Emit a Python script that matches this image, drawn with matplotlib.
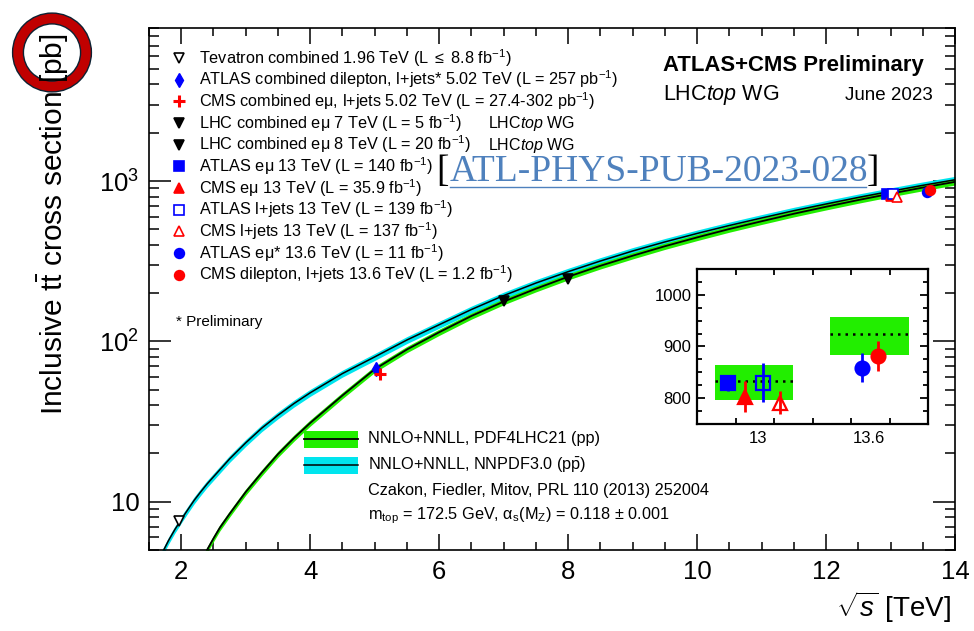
import matplotlib
matplotlib.use("Agg")
import matplotlib.pyplot as plt
from matplotlib.lines import Line2D
from matplotlib.patches import Rectangle, Circle
from matplotlib.ticker import FixedLocator, MultipleLocator, NullFormatter

plt.rcParams['font.family'] = ['Liberation Sans', 'DejaVu Sans']
plt.rcParams['mathtext.fontset'] = 'custom'
plt.rcParams['mathtext.rm'] = 'Liberation Sans'
plt.rcParams['mathtext.it'] = 'Liberation Sans:italic'
plt.rcParams['mathtext.bf'] = 'Liberation Sans:bold'
plt.rcParams['mathtext.sf'] = 'Liberation Sans'
plt.rcParams['mathtext.default'] = 'regular'

W, H = 974, 631

# theory curves
sqrts_pp = [2.3, 2.4, 2.5, 2.6, 2.75, 3.0, 3.25, 3.5, 3.75, 4.0, 4.5, 5.0, 5.5, 6.0, 6.5, 7.0, 7.5, 8.0,
            8.5, 9.0, 9.5, 10.0, 10.5, 11.0, 11.5, 12.0, 12.5, 13.0, 13.5, 14.0]
xsec_pp = [4.2, 5.0, 5.9, 6.9, 8.4, 11.5, 15.2, 19.8, 25.0, 31.0, 46.0, 67.0, 89.0, 114.0, 144.0, 177.0, 213.0, 253.0,
           296.0, 342.0, 392.0, 445.0, 502.0, 561.0, 625.0, 691.0, 761.0, 834.0, 910.0, 988.0]
sqrts_ppbar = [1.6, 1.7, 1.8, 1.9, 1.96, 2.0, 2.1, 2.2, 2.3, 2.4, 2.5, 2.75, 3.0, 3.25, 3.5, 3.75, 4.0, 4.5,
               5.0, 5.5, 6.0, 6.5, 7.0, 7.5, 8.0, 8.5, 9.0, 9.5, 10.0, 10.5, 11.0, 11.5, 12.0, 12.5, 13.0,
               13.5, 14.0]
xsec_ppbar = [3.9, 4.75, 5.7, 6.7, 7.3, 7.75, 8.9, 10.2, 11.5, 12.9, 14.3, 18.5, 23.3, 28.8, 34.6, 41.0, 47.8, 63.0,
              80.0, 102.0, 127.0, 158.0, 193.0, 231.0, 272.0, 317.0, 366.0, 417.0, 471.0, 528.0, 588.0, 653.0,
              719.0, 790.0, 863.0, 940.0, 1018.0]
rel_unc_pp = 0.045
rel_unc_ppbar = 0.05

# measurements
labels = [
    r"Tevatron combined 1.96 TeV (L $\leq$ 8.8 fb$^{-1}$)",
    r"ATLAS combined dilepton, l+jets* 5.02 TeV (L = 257 pb$^{-1}$)",
    r"CMS combined eμ, l+jets 5.02 TeV (L = 27.4-302 pb$^{-1}$)",
    r"LHC combined eμ 7 TeV (L = 5 fb$^{-1}$)",
    r"LHC combined eμ 8 TeV (L = 20 fb$^{-1}$)",
    r"ATLAS eμ 13 TeV (L = 140 fb$^{-1}$)",
    r"CMS eμ 13 TeV (L = 35.9 fb$^{-1}$)",
    r"ATLAS l+jets 13 TeV (L = 139 fb$^{-1}$)",
    r"CMS l+jets 13 TeV (L = 137 fb$^{-1}$)",
    r"ATLAS eμ* 13.6 TeV (L = 11 fb$^{-1}$)",
    r"CMS dilepton, l+jets 13.6 TeV (L = 1.2 fb$^{-1}$)",
]
meas_x = [1.96, 5.02, 5.08, 7.0, 8.0, 12.94, 13.0, 13.04, 13.1, 13.57, 13.62]
meas_y = [7.6, 67.5, 63.0, 178.5, 243.3, 829.0, 803.0, 830.0, 791.0, 859.0, 882.0]
meas_err = [0.5, 2.5, 5.0, 6.0, 8.0, 15.0, 30.0, 38.0, 22.0, 28.0, 29.0]
markers = ['v', 'd', '+', 'v', 'v', 's', '^', 's', '^', 'o', 'o']
colors = ['black', 'blue', 'red', 'black', 'black', 'blue', 'red', 'blue', 'red', 'blue', 'red']
filled = [False, True, True, True, True, True, True, False, False, True, True]

# inset (13 and 13.6 TeV zoom)
inset_pos = [0.134, 0.208, 0.286, 0.359, 0.714, 0.784]
inset_idx = [5, 6, 7, 8, 9, 10]
theory_box_x = [(0.078, 0.416), (0.576, 0.918)]
theory_box_c = [834.0, 924.0]
theory_box_lo = [796.0, 883.0]
theory_box_hi = [864.0, 957.0]
inset_labels = ['13', '13.6']
inset_label_pos = [0.264, 0.745]


def px(x, y):
    return x / W, 1 - y / H


def mstyle(i, big=False):
    m = markers[i]
    if m == '+':
        return dict(ms=9 if big else 8, mew=2.2)
    if m == 'd':
        return dict(ms=7.5, mew=1.0)
    return dict(ms=(10 if big else 7), mew=1.6 if big else 1.2)


fig = plt.figure(figsize=(W / 100, H / 100), dpi=100)
x0, y0 = px(149, 550)
x1, y1 = px(955, 28)
ax = fig.add_axes([x0, y0, x1 - x0, y1 - y0])

# theory bands
ax.fill_between(sqrts_ppbar, [v * (1 - rel_unc_ppbar) for v in xsec_ppbar],
                [v * (1 + rel_unc_ppbar) for v in xsec_ppbar], color='#00e5ee', lw=0, zorder=2)
ax.plot(sqrts_ppbar, xsec_ppbar, color='black', lw=1.1, zorder=3)
ax.fill_between(sqrts_pp, [v * (1 - rel_unc_pp) for v in xsec_pp],
                [v * (1 + rel_unc_pp) for v in xsec_pp], color='#22ee00', lw=0, zorder=2)
ax.plot(sqrts_pp, xsec_pp, color='black', lw=1.3, zorder=3)

for i in range(len(meas_x)):
    ax.errorbar(meas_x[i], meas_y[i], yerr=meas_err[i], fmt=markers[i], color=colors[i],
                mfc=colors[i] if filled[i] else 'white', mec=colors[i],
                elinewidth=1.2, capsize=0, zorder=5, **mstyle(i))

ax.set_yscale('log')
ax.set_xlim(1.5, 14)
ax.set_ylim(5, 9000)
ax.xaxis.set_major_locator(FixedLocator([2, 4, 6, 8, 10, 12, 14]))
ax.xaxis.set_minor_locator(MultipleLocator(0.5))
ax.set_xticklabels(['2', '4', '6', '8', '10', '12', '14'])
ax.yaxis.set_major_locator(FixedLocator([10, 100, 1000]))
ax.set_yticklabels(['10', r'$10^{2}$', r'$10^{3}$'])
ax.yaxis.set_minor_locator(FixedLocator([m * 10 ** d for d in range(0, 4) for m in range(2, 10)]))
ax.yaxis.set_minor_formatter(NullFormatter())
ax.tick_params(which='both', direction='in', top=True, right=True, width=1.1, labelsize=18.5)
ax.tick_params(axis='x', which='major', length=11.5, pad=7)
ax.tick_params(axis='x', which='minor', length=5.8)
ax.tick_params(axis='y', which='major', length=16, pad=7)
ax.tick_params(axis='y', which='minor', length=7.5)
for s in ax.spines.values():
    s.set_linewidth(1.2)

# axis titles
fig.text(*px(53, 224), r"Inclusive $\mathrm{t\bar{t}}$ cross section [pb]", rotation=90,
         ha='center', va='center', fontsize=21.5)
fig.text(*px(951, 607), r"$\sqrt{\mathit{s}}$ [TeV]", ha='right', va='center', fontsize=20)

# measurement legend
row0, drow = 58, 21.65
for i, lab in enumerate(labels):
    yy = row0 + i * drow
    mx, my = px(179, yy)
    fig.add_artist(Line2D([mx], [my], marker=markers[i], color=colors[i],
                          mfc=colors[i] if filled[i] else 'white', mec=colors[i], ls='none', **mstyle(i)))
    fig.text(*px(199, yy), lab, ha='left', va='center', fontsize=11.7)
for i in (3, 4):
    fig.text(*px(488, row0 + i * drow + 1), r"LHC$\mathit{top}$ WG", ha='left', va='center', fontsize=11.5)
fig.text(*px(176, 322), "* Preliminary", ha='left', va='center', fontsize=11)

# header
fig.text(*px(663, 66), "ATLAS+CMS Preliminary", ha='left', va='center', fontsize=15.9, fontweight='bold')
fig.text(*px(663, 95), r"LHC$\mathit{top}$ WG", ha='left', va='center', fontsize=15.5)
fig.text(*px(933, 96), "June 2023", ha='right', va='center', fontsize=13.5)

# link
link_col = '#4f81bd'
fig.text(*px(449, 172), "[", ha='right', va='center', fontsize=27, family='Liberation Serif')
fig.text(*px(450, 172), "ATL-PHYS-PUB-2023-028", ha='left', va='center', fontsize=27,
         family='Liberation Serif', color=link_col)
fig.text(*px(867, 172), "]", ha='left', va='center', fontsize=27, family='Liberation Serif')
ux0, uy = px(450, 187)
ux1, _ = px(866, 187)
fig.add_artist(Line2D([ux0, ux1], [uy, uy], color=link_col, lw=1))

# theory legend
for k, (col, yy, lab) in enumerate([('#22ee00', 439, "NNLO+NNLL, PDF4LHC21 (pp)"),
                                    ('#00e5ee', 465, r"NNLO+NNLL, NNPDF3.0 ($\mathrm{p\bar{p}}$)")]):
    rx, ry = px(304, yy + 8.5)
    rw = 54 / W
    rh = 17 / H
    fig.add_artist(Rectangle((rx, ry), rw, rh, transform=fig.transFigure, color=col, lw=0))
    lx0, ly = px(304, yy)
    lx1, _ = px(358, yy)
    fig.add_artist(Line2D([lx0, lx1], [ly, ly], color='black', lw=1.3 if k == 0 else 1.1))
    fig.text(*px(368, yy), lab, ha='left', va='center', fontsize=11.7)
fig.text(*px(368, 490), "Czakon, Fiedler, Mitov, PRL 110 (2013) 252004", ha='left', va='center', fontsize=11.7)
fig.text(*px(368, 516), r"m$_{top}$ = 172.5 GeV, $\alpha_{s}$(M$_{Z}$) = 0.118 $\pm$ 0.001",
         ha='left', va='center', fontsize=11.7)

# inset
ix0, iy0 = px(697, 424)
ix1, iy1 = px(928, 269)
axi = fig.add_axes([ix0, iy0, ix1 - ix0, iy1 - iy0])
axi.set_facecolor('white')
for k in range(2):
    xa, xb = theory_box_x[k]
    axi.fill_between([xa, xb], [theory_box_lo[k]] * 2, [theory_box_hi[k]] * 2, color='#22ee00', lw=0)
    axi.plot([xa, xb], [theory_box_c[k]] * 2, color='black', ls=(0, (1, 2)), lw=1.8)
for p, i in zip(inset_pos, inset_idx):
    axi.errorbar(p, meas_y[i], yerr=meas_err[i], fmt=markers[i], color=colors[i],
                 mfc=colors[i] if filled[i] else 'none', mec=colors[i],
                 elinewidth=2, capsize=0, zorder=5, **mstyle(i, big=True))
axi.set_xlim(0, 1)
axi.set_ylim(750, 1050)
axi.set_xticks([k / 6 for k in range(1, 6)])
axi.set_xticklabels([])
axi.set_xticks(inset_label_pos, labels=inset_labels, minor=True)
axi.yaxis.set_major_locator(FixedLocator([800, 900, 1000]))
axi.yaxis.set_minor_locator(MultipleLocator(25))
axi.tick_params(which='both', direction='in', top=True, right=True, width=1.3, labelsize=12)
axi.tick_params(axis='x', which='minor', length=0, pad=5)
axi.tick_params(axis='x', which='major', length=4.5)
axi.tick_params(axis='y', which='major', length=6, pad=4)
axi.tick_params(axis='y', which='minor', length=3.5)
for s in axi.spines.values():
    s.set_linewidth(1.6)

# red ring annotation around the unit
fig.add_artist(Circle((0.52, (H - 52.5) / 100), 0.34, transform=fig.dpi_scale_trans,
                      fill=False, ec='#0d2233', lw=8.8))
fig.add_artist(Circle((0.52, (H - 52.5) / 100), 0.34, transform=fig.dpi_scale_trans,
                      fill=False, ec='#c00000', lw=6.8))

fig.savefig("out.png", dpi=100)
